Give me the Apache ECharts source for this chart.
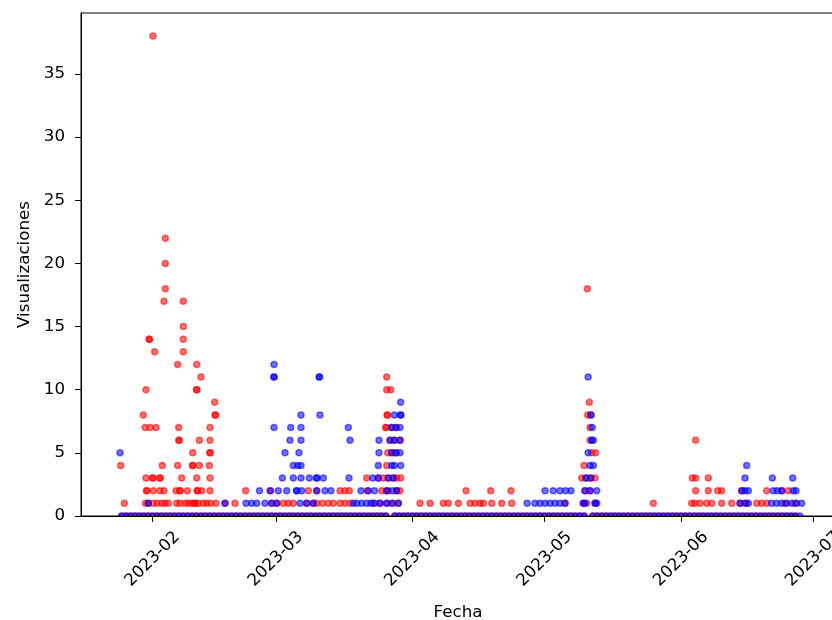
<!DOCTYPE html>
<html>
<head>
<meta charset="utf-8">
<script src="https://cdn.jsdelivr.net/npm/echarts@6/dist/echarts.min.js"></script>
<style>
html,body{margin:0;padding:0;background:#fff;}
#chart{width:832px;height:620px;}
</style>
</head>
<body>
<div id="chart"></div>
<script>
// x values are days since 2023-01-01 (fractional), y values are views
const monthTicks = ['2023-02', '2023-03', '2023-04', '2023-05', '2023-06', '2023-07'];
const yTicks = [0, 5, 10, 15, 20, 25, 30, 35];

const redPoints = [
  [31.11,38],[33.91,22],[33.91,20],[33.91,18],[33.61,17],[37.99,17],[37.99,15],
  [30.20,14],[30.34,14],[37.99,14],[31.50,13],[37.99,13],[36.72,12],[41.04,12],[42.01,11],
  [29.52,10],[40.97,10],[41.11,10],[45.12,9],[28.91,8],[45.19,8],[45.33,8],
  [29.37,7],[30.43,7],[31.79,7],[36.95,7],[44.06,7],
  [36.95,6],[37.09,6],[41.63,6],[44.06,6],
  [40.13,5],[43.99,5],[44.13,5],
  [23.78,4],[33.23,4],[36.72,4],[40.06,4],[40.20,4],[41.63,4],[43.90,4],
  [29.52,3],[30.98,3],[31.12,3],[32.63,3],[32.77,3],[37.63,3],[41.04,3],[44.06,3],
  [29.61,2],[29.75,2],[31.18,2],[32.70,2],[33.61,2],[36.34,2],[37.17,2],[37.31,2],[38.90,2],[41.10,2],[41.24,2],[42.17,2],[44.06,2],[52.16,2],
  [24.60,1],[29.40,1],[30.05,1],[31.18,1],[32.10,1],[33.09,1],[33.84,1],[34.60,1],[36.50,1],[37.24,1],[38.40,1],[39.10,1],[39.90,1],[40.58,1],[40.72,1],[41.40,1],[42.53,1],[43.31,1],[44.20,1],[45.42,1],[47.46,1],[49.73,1],
  [84.18,11],[84.18,10],[85.09,10],[84.24,8],[84.38,8],
  [83.95,7],[84.09,7],[85.31,7],[86.29,7],
  [84.93,6],[85.91,6],[87.20,6],
  [84.41,5],[85.31,5],[86.29,5],[84.18,4],
  [79.64,3],[82.27,3],[83.41,3],[84.54,3],[85.68,3],[86.45,3],[87.36,3],
  [57.84,2],[66.38,2],[68.29,2],[73.58,2],[74.71,2],[75.69,2],[79.82,2],[83.04,2],[84.18,2],[84.54,2],[86.45,2],[87.20,2],
  [58.07,1],[59.20,1],[60.70,1],[61.84,1],[62.97,1],[66.02,1],[67.52,1],[68.29,1],[69.60,1],[70.92,1],[72.06,1],[73.58,1],[74.71,1],[75.85,1],[81.07,1],[82.66,1],[84.18,1],[85.68,1],[86.82,1],
  [91.75,1],[94.02,1],[97.04,1],[98.18,1],[100.45,1],[103.11,1],[104.24,1],[105.38,1],[106.13,1],[108.03,1],[110.30,1],[112.57,1],
  [102.19,2],[107.79,2],[112.40,2],
  [129.73,18],[130.18,9],[129.82,8],[130.57,8],[130.34,7],[130.34,6],[130.72,5],[131.63,5],[128.99,4],
  [128.46,3],[129.44,3],[130.50,3],[131.48,3],[129.20,2],[130.34,2],
  [124.67,1],[128.82,1],[129.59,1],[131.48,1],
  [154.34,6],[153.57,3],[154.34,3],[157.20,3],
  [154.34,2],[157.20,2],[159.34,2],[160.25,2],[164.79,2],[170.46,2],[173.87,2],[175.37,2],
  [144.72,1],[153.43,1],[154.18,1],[155.32,1],[156.84,1],[157.98,1],[160.25,1],[162.52,1],[164.40,1],[165.83,1],[168.19,1],[169.33,1],[170.46,1],[174.60,1],[176.86,1]
];

const bluePoints = [
  [23.62,5],[30.05,1],[47.46,1],[52.23,1],[53.52,1],[54.66,1],[55.30,2],[57.68,2],
  [58.59,12],[58.50,11],[58.68,11],[68.80,11],[68.96,11],
  [64.72,8],[69.03,8],[85.91,8],[87.29,8],[87.43,8],[87.36,9],
  [58.59,7],[62.38,7],[64.72,7],[75.46,7],[85.31,7],[86.29,7],[87.20,7],
  [62.22,6],[64.72,6],[75.85,6],[82.43,6],[84.93,6],[85.91,6],[87.20,6],
  [61.09,5],[64.27,5],[82.43,5],[85.31,5],[86.29,5],[87.20,5],
  [62.97,4],[63.97,4],[64.72,4],[82.27,4],[85.31,4],[85.91,4],[87.36,4],
  [60.48,3],[62.97,3],[64.72,3],[66.61,3],[68.22,3],[68.36,3],[69.79,3],[75.62,3],[81.00,3],[82.27,3],[84.54,3],[85.68,3],
  [59.57,2],[61.48,2],[63.68,2],[63.82,2],[64.88,2],[68.29,2],[70.17,2],[71.53,2],[78.35,2],[80.00,2],[81.40,2],[84.18,2],[85.50,2],[86.45,2],
  [56.55,1],[58.07,1],[59.20,1],[64.50,1],[66.02,1],[67.52,1],[76.60,1],[77.37,1],[78.50,1],[79.64,1],[80.60,1],[81.53,1],[82.66,1],[84.18,1],[85.31,1],[86.82,1],
  [116.07,1],[117.85,1],[118.99,1],[120.13,1],[121.26,1],[122.40,1],[123.53,1],[124.67,1],[128.82,1],[129.20,1],[131.48,1],[131.86,1],
  [120.13,2],[122.01,2],[123.53,2],[124.83,2],[126.03,2],[129.20,2],[130.34,2],[131.86,2],
  [129.44,3],[130.50,3],[130.34,4],[131.09,4],[129.91,5],[130.72,6],[131.09,6],[130.86,7],[130.57,8],[129.91,11],
  [165.92,4],[165.54,3],[171.74,3],[176.37,3],
  [164.79,2],[165.54,2],[166.29,2],[171.96,2],[172.87,2],[173.87,2],[176.50,2],[177.12,2],
  [164.40,1],[165.54,1],[166.29,1],[171.58,1],[172.72,1],[173.87,1],[175.00,1],[176.14,1],[177.27,1],[178.41,1]
];

// days with a zero-view record
const redZeroDays = [
  24,25,26,27,28,29,30,31,32,33,34,35,36,37,38,39,40,41,42,43,44,45,46,47,48,49,50,51,52,53,54,
  55,56,57,58,59,60,61,62,63,64,65,66,67,68,69,70,71,72,73,74,75,76,77,78,79,80,81,82,83,84,
  86,87,88,89,90,91,92,93,94,95,96,97,98,99,100,101,102,103,104,105,106,107,108,109,110,111,112,
  113,114,115,116,117,118,119,120,121,122,123,124,125,126,127,128,129,
  131,132,133,134,135,136,137,138,139,140,141,142,143,144,145,146,147,148,149,150,151,152,153,154,
  155,156,157,158,159,160,161,162,163,164,165,166,167,168,169,170,171,172,173,174,175,176,177
];
const blueZeroDays = [
  24,25,26,27,28,29,30,31,32,33,34,35,36,37,38,39,40,41,42,43,44,45,46,47,48,49,50,51,52,53,54,
  55,56,57,58,59,60,61,62,63,64,65,66,67,68,69,70,71,72,73,74,75,76,77,78,79,80,81,82,83,84,
  86,87,88,89,90,91,92,93,94,95,96,97,98,99,100,101,102,103,104,105,106,107,108,109,110,111,112,
  113,114,115,116,117,118,119,120,121,122,123,124,125,126,127,128,129,
  131,132,133,134,135,136,137,138,139,140,141,142,143,144,145,146,147,148,149,150,151,152,153,154,
  155,156,157,158,159,160,161,162,163,164,165,166,167,168,169,170,171,172,173,174,175,176,177,178
];

const BASE = Date.UTC(2023, 0, 1);
const DAY = 86400000;
const toTime = d => BASE + d * DAY;
const xMin = toTime(14.765);
const xMax = toTime(185.97);
const monthValues = monthTicks.map(m => Date.UTC(+m.slice(0, 4), +m.slice(5, 7) - 1, 1));

const redData = redZeroDays.map(d => [toTime(d), 0]).concat(redPoints.map(p => [toTime(p[0]), p[1]]));
const blueData = blueZeroDays.map(d => [toTime(d), 0]).concat(bluePoints.map(p => [toTime(p[0]), p[1]]));

const FONT = 'DejaVu Sans';
const FS = 16.7;
const RED = 'rgba(255,0,0,0.55)';
const BLUE = 'rgba(0,0,255,0.55)';

const chart = echarts.init(document.getElementById('chart'), null, {renderer: 'canvas'});
chart.setOption({
  animation: false,
  backgroundColor: '#fff',
  grid: {left: 81, top: 13, right: -3, bottom: 104, show: true, borderColor: '#000', borderWidth: 1,
         containLabel: false, outerBoundsMode: 'none'},
  xAxis: {
    type: 'value', min: xMin, max: xMax, z: 20,
    name: 'Fecha', nameLocation: 'middle', nameGap: 88,
    nameTextStyle: {fontFamily: FONT, fontSize: FS, color: '#000'},
    axisLine: {show: true, lineStyle: {color: '#000', width: 1}},
    axisTick: {show: true, customValues: monthValues, length: 6, lineStyle: {color: '#000', width: 1}},
    axisLabel: {
      customValues: monthValues, rotate: 45, align: 'center', verticalAlign: 'middle', margin: 43,
      fontFamily: FONT, fontSize: FS, color: '#000',
      formatter: v => {
        const i = monthValues.findIndex(m => Math.abs(m - v) < 3600000);
        return i >= 0 ? monthTicks[i] : '';
      }
    },
    splitLine: {show: false}
  },
  yAxis: {
    type: 'value', min: 0, max: 39.83, z: 20,
    name: 'Visualizaciones', nameLocation: 'middle', nameGap: 47,
    nameTextStyle: {fontFamily: FONT, fontSize: FS, color: '#000'},
    axisLine: {show: true, lineStyle: {color: '#000', width: 1}},
    axisTick: {show: true, customValues: yTicks, length: 6, lineStyle: {color: '#000', width: 1}},
    axisLabel: {customValues: yTicks, margin: 16, fontFamily: FONT, fontSize: FS, color: '#000'},
    splitLine: {show: false}
  },
  graphic: [{
    type: 'rect', z: 10, silent: true,
    shape: {x: 0, y: 517, width: 832, height: 9},
    style: {fill: '#fff'}
  }],
  series: [
    {type: 'scatter', name: 'red', data: redData, symbolSize: 6, z: 2,
     itemStyle: {color: RED, borderColor: RED, borderWidth: 1.5, opacity: 1}},
    {type: 'scatter', name: 'blue', data: blueData, symbolSize: 6, z: 3,
     itemStyle: {color: BLUE, borderColor: BLUE, borderWidth: 1.5, opacity: 1}}
  ]
});
</script>
</body>
</html>
